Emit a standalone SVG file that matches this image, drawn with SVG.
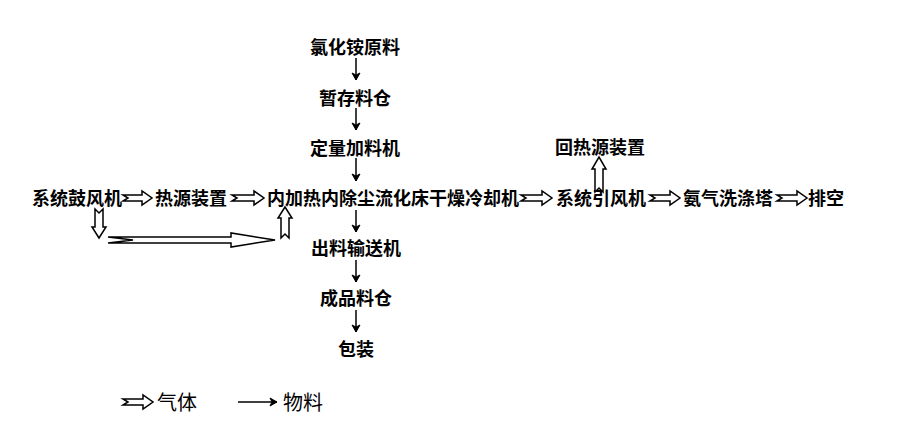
<svg xmlns="http://www.w3.org/2000/svg" width="897" height="426" viewBox="0 0 897 426">
<style>
.t{font-family:"Noto Sans CJK SC","Liberation Sans",sans-serif;font-size:18px;font-weight:bold;fill:#000}
.lg{font-family:"Noto Sans CJK SC","Liberation Sans",sans-serif;font-size:20px;font-weight:normal;fill:#000}
.gas{fill:#fff;stroke:#000;stroke-width:1.5;stroke-linejoin:miter}
.mat{fill:none;stroke:#000;stroke-width:1.5}
</style>
<defs>
<marker id="ah" viewBox="-8 -5 9 10" refX="0" refY="0" markerWidth="9" markerHeight="10" markerUnits="userSpaceOnUse" orient="auto">
<path d="M0,0 L-7,-4 L-5,0 L-7,4 Z" fill="#000" stroke="#000" stroke-width="1"/>
</marker>
</defs>
<rect width="897" height="426" fill="#fff"/>
<g id="n-raw"><text class="t" x="355" y="54" text-anchor="middle">氯化铵原料</text></g>
<g id="n-store"><text class="t" x="355" y="105" text-anchor="middle">暂存料仓</text></g>
<g id="n-feeder"><text class="t" x="355" y="155" text-anchor="middle">定量加料机</text></g>
<g id="n-blower"><text class="t" x="32" y="205">系统鼓风机</text></g>
<g id="n-heat"><text class="t" x="155" y="205">热源装置</text></g>
<g id="n-dryer"><text class="t" x="267" y="205">内加热内除尘流化床干燥冷却机</text></g>
<g id="n-fan"><text class="t" x="556" y="205">系统引风机</text></g>
<g id="n-reheat"><text class="t" x="555" y="154">回热源装置</text></g>
<g id="n-scrub"><text class="t" x="683" y="205">氨气洗涤塔</text></g>
<g id="n-vent"><text class="t" x="808" y="205">排空</text></g>
<g id="n-out"><text class="t" x="356" y="255" text-anchor="middle">出料输送机</text></g>
<g id="n-prod"><text class="t" x="356" y="305" text-anchor="middle">成品料仓</text></g>
<g id="n-pack"><text class="t" x="356" y="356" text-anchor="middle">包装</text></g>
<g id="connectors">
<line class="mat" x1="356" y1="58" x2="356" y2="80" marker-end="url(#ah)"/>
<line class="mat" x1="356" y1="108" x2="356" y2="130" marker-end="url(#ah)"/>
<line class="mat" x1="356" y1="158" x2="356" y2="181" marker-end="url(#ah)"/>
<line class="mat" x1="356" y1="210" x2="356" y2="232" marker-end="url(#ah)"/>
<line class="mat" x1="356" y1="260" x2="356" y2="282" marker-end="url(#ah)"/>
<line class="mat" x1="356" y1="310" x2="356" y2="332" marker-end="url(#ah)"/>
<path class="gas" d="M123,195 L142,195 L142,191 L152,198 L142,205 L142,201 L123,201 L128,198 Z"/>
<path class="gas" d="M232,195 L254,195 L254,191 L264,198 L254,205 L254,201 L232,201 L237,198 Z"/>
<path class="gas" d="M521,195 L542,195 L542,191 L552,198 L542,205 L542,201 L521,201 L526,198 Z"/>
<path class="gas" d="M650,195 L670,195 L670,191 L680,198 L670,205 L670,201 L650,201 L655,198 Z"/>
<path class="gas" d="M777,195 L797,195 L797,191 L807,198 L797,205 L797,201 L777,201 L782,198 Z"/>
<path class="gas" d="M95,209 L95,227 L92,227 L99,238 L106,227 L103,227 L103,209 L99,213 Z"/>
<path class="gas" d="M108,237 L231,237 L231,233 L275,240 L231,247 L231,243 L108,243 L133,240 Z"/>
<path class="gas" d="M281,238 L281,218 L278,218 L285,207 L292,218 L289,218 L289,238 L285,234 Z"/>
<path class="gas" d="M595,192 L595,169 L592,169 L599,157 L606,169 L603,169 L603,192 L599,188 Z"/>
</g>
<g id="legend">
<path class="gas" d="M123,399 L143,399 L143,395 L153,402 L143,409 L143,405 L123,405 L128,402 Z"/>
<text class="lg" x="157" y="410">气体</text>
<line class="mat" x1="238" y1="402" x2="277" y2="402" marker-end="url(#ah)"/>
<text class="lg" x="283" y="410">物料</text>
</g>
</svg>
